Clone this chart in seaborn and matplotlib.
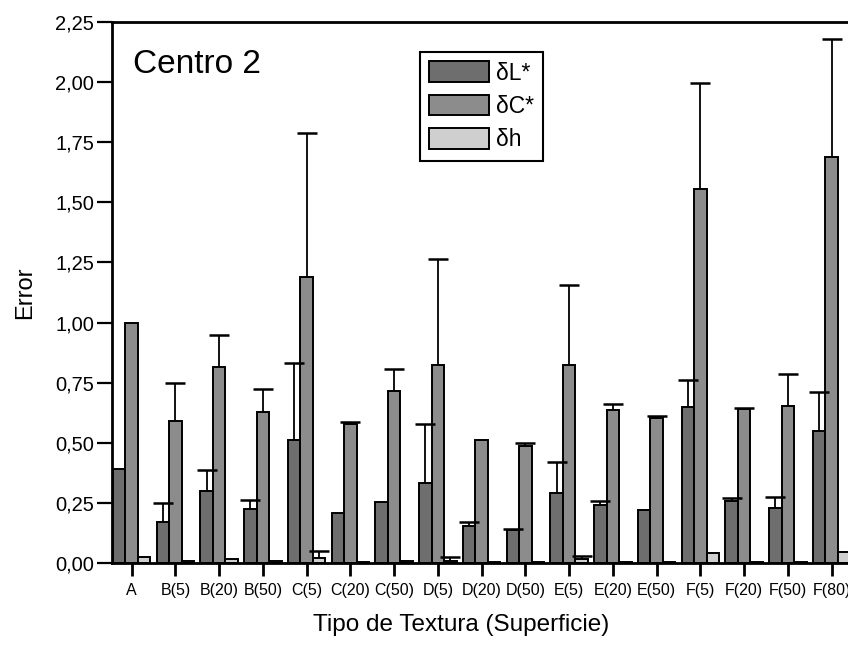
import numpy as np
import pandas as pd
import matplotlib.pyplot as plt
import seaborn as sns

# Data
categories = ["A", "B(5)", "B(20)", "B(50)", "C(5)", "C(20)", "C(50)", "D(5)",
              "D(20)", "D(50)", "E(5)", "E(20)", "E(50)", "F(5)", "F(20)", "F(50)", "F(80)"]
series = ["δL*", "δC*", "δh"]

dL = [0.39, 0.17, 0.30, 0.225, 0.51, 0.21, 0.254, 0.334, 0.154, 0.136, 0.29, 0.24, 0.22, 0.65, 0.257, 0.23, 0.55]
dL_err = [0.0, 0.08, 0.085, 0.037, 0.32, 0.0, 0.0, 0.245, 0.016, 0.007, 0.13, 0.02, 0.0, 0.11, 0.013, 0.045, 0.16]
dC = [1.00, 0.59, 0.815, 0.63, 1.19, 0.578, 0.714, 0.825, 0.51, 0.485, 0.825, 0.635, 0.605, 1.555, 0.64, 0.655, 1.69]
dC_err = [0.0, 0.16, 0.135, 0.094, 0.60, 0.007, 0.091, 0.44, 0.0, 0.015, 0.33, 0.025, 0.005, 0.44, 0.005, 0.13, 0.49]
dh = [0.025, 0.008, 0.015, 0.01, 0.02, 0.005, 0.01, 0.01, 0.003, 0.003, 0.015, 0.005, 0.005, 0.04, 0.005, 0.005, 0.045]
dh_err = [0, 0, 0, 0, 0.03, 0, 0, 0.015, 0, 0, 0.015, 0, 0, 0, 0, 0, 0]

values = [dL, dC, dh]
errors = [dL_err, dC_err, dh_err]
colors = ["#6e6e6e", "#8c8c8c", "#cfcfcf"]

df = pd.DataFrame({
    "Tipo": np.tile(categories, len(series)),
    "Serie": np.repeat(series, len(categories)),
    "Error": np.concatenate(values),
})

sns.set_style("ticks")
plt.rcParams["font.family"] = ["Liberation Sans", "DejaVu Sans"]
plt.rcParams.update({"text.color": "black", "axes.labelcolor": "black",
                     "xtick.color": "black", "ytick.color": "black",
                     "axes.edgecolor": "black"})

fig = plt.figure(figsize=(8.48, 6.45), dpi=100)
ax = fig.add_axes([0.132, 0.127, 0.872, 0.839])

sns.barplot(data=df, x="Tipo", y="Error", hue="Serie", order=categories,
            hue_order=series, palette=colors, width=0.86, edgecolor="black",
            linewidth=1.4, saturation=1, ax=ax)

# upper error bars only (hide the lower cap)
for cont, err in zip(ax.containers, errors):
    xs = [p.get_x() + p.get_width() / 2 for p in cont.patches]
    hs = [p.get_height() for p in cont.patches]
    err = np.array(err)
    mask = err > 0
    eb = ax.errorbar(np.array(xs)[mask], np.array(hs)[mask],
                     yerr=[np.zeros(mask.sum()), err[mask]],
                     fmt="none", ecolor="black", elinewidth=1.3, capsize=7, capthick=1.8)
    eb[1][0].set_visible(False)

ax.set_ylim(0, 2.25)
ax.set_xlim(-0.45, 16.45)
yt = np.arange(0, 2.26, 0.25)
ax.set_yticks(yt)
ax.set_yticklabels([f"{v:.2f}".replace(".", ",") for v in yt], fontsize=14.5)
ax.set_xticks(range(len(categories)))
ax.set_xticklabels(categories, fontsize=11.5)

ax.tick_params(axis="y", direction="out", length=11, width=1.6, pad=2)
ax.tick_params(axis="x", direction="out", length=9.5, width=2, pad=5)
for side in ["left", "top", "bottom"]:
    ax.spines[side].set_linewidth(2)
ax.spines["right"].set_visible(False)

ax.set_ylabel("Error", fontsize=17)
ax.yaxis.set_label_coords(-0.102, 0.5)
ax.set_xlabel("Tipo de Textura (Superficie)", fontsize=17.5)
ax.xaxis.set_label_coords(0.472, -0.094)
ax.text(0.028, 0.95, "Centro 2", transform=ax.transAxes, fontsize=24, va="top", ha="left")

leg = ax.legend(loc="upper left", bbox_to_anchor=(0.417, 0.944), fontsize=16.5,
                frameon=True, fancybox=False, edgecolor="black", framealpha=1,
                handlelength=2.6, handleheight=1.0, handletextpad=0.3,
                borderpad=0.4, labelspacing=0.45, borderaxespad=0, title=None)
leg.get_frame().set_linewidth(1.5)

plt.savefig("out.png", dpi=100)
